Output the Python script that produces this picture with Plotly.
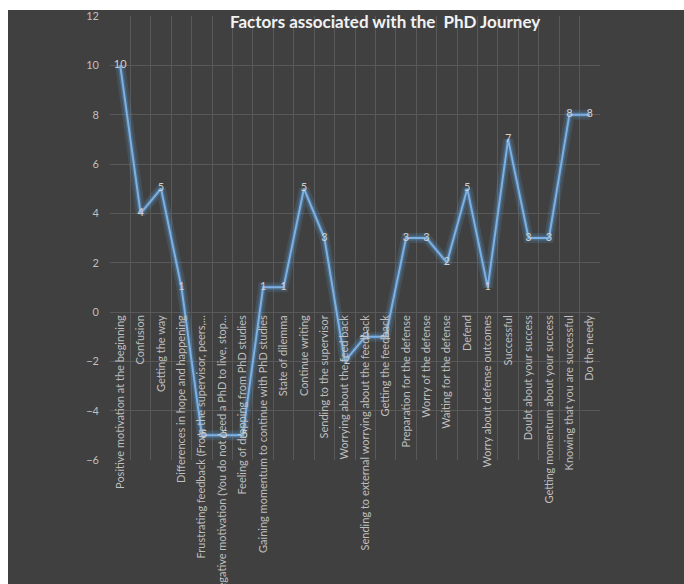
import plotly.graph_objects as go

categories = [
    "Positive motivation at the beginning",
    "Confusion",
    "Getting the way",
    "Differences in hope and happening",
    "Frustrating feedback (From the supervisor, peers,...",
    "Negative motivation (You do not need a PhD to live, stop...",
    "Feeling of dropping from PhD studies",
    "Gaining momentum to continue with PhD studies",
    "State of dilemma",
    "Continue writing",
    "Sending to the supervisor",
    "Worrying about the feed back",
    "Sending to external worrying about the feedback",
    "Getting the feedback",
    "Preparation for the defense",
    "Worry of the defense",
    "Waiting for the defense",
    "Defend",
    "Worry about defense outcomes",
    "Successful",
    "Doubt about your success",
    "Getting momentum about your success",
    "Knowing that you are successful",
    "Do the needy",
]
values = [10, 4, 5, 1, -5, -5, -5, 1, 1, 5, 3, -2, -1, -1, 3, 3, 2, 5, 1, 7, 3, 3, 8, 8]
y_ticks = [-6, -4, -2, 0, 2, 4, 6, 8, 10, 12]
title_text = "Factors associated with the  PhD Journey"

x_idx = list(range(len(categories)))

BG = "#404040"
GRID = "#595959"
TXT = "#bfbfbf"

# plot area in pixels
W, H = 684, 584
L, R, T, B = 110, 84, 16, 124
pw, ph = W - L - R, H - T - B

fig = go.Figure()
# glow layers
fig.add_trace(go.Scatter(x=x_idx, y=values, mode="lines",
                         line=dict(color="rgba(91,155,213,0.18)", width=10),
                         hoverinfo="skip", showlegend=False))
fig.add_trace(go.Scatter(x=x_idx, y=values, mode="lines",
                         line=dict(color="rgba(91,155,213,0.35)", width=5),
                         hoverinfo="skip", showlegend=False))
fig.add_trace(go.Scatter(x=x_idx, y=values, mode="lines+text",
                         line=dict(color="#7db0e3", width=2),
                         text=[str(v) for v in values],
                         textposition="middle center",
                         textfont=dict(family="Lato", size=11, color="#d0d0d0"),
                         showlegend=False))

fig.update_layout(
    width=W, height=H,
    margin=dict(l=L, r=R, t=T, b=B, pad=0),
    paper_bgcolor="white",
    plot_bgcolor=BG,
    showlegend=False,
    shapes=[dict(type="rect", xref="paper", yref="paper",
                 x0=(8 - L) / pw, x1=(W - L) / pw,
                 y0=-B / ph, y1=(H - B - 10) / ph,
                 fillcolor=BG, line=dict(width=0), layer="below")],
    annotations=[dict(text="<b>" + title_text + "</b>", xref="paper", yref="paper",
                      x=(385 - L) / pw, y=(H - B - 22) / ph, xanchor="center", yanchor="middle",
                      showarrow=False,
                      font=dict(family="Lato", size=17, color="#f2f2f2"))],
)

zero_pos = (0 - (-6)) / (12 - (-6))
fig.update_xaxes(
    range=[-0.5, len(categories) - 0.5],
    tickmode="array", tickvals=x_idx, ticktext=categories,
    tickangle=-90,
    tickfont=dict(family="Lato", size=11, color=TXT),
    showgrid=False, zeroline=False, showline=False, ticks="",
    anchor="free", position=zero_pos, automargin=False,
    minor=dict(tickmode="array", tickvals=[i - 0.5 for i in range(len(categories) + 1)],
               showgrid=True, gridcolor=GRID, gridwidth=1),
)
fig.update_yaxes(
    range=[-6, 12],
    tickmode="array", tickvals=y_ticks,
    tickfont=dict(family="Lato", size=11, color=TXT),
    showgrid=True, gridcolor=GRID, gridwidth=1,
    zeroline=False, showline=False, ticks="", ticklabelstandoff=10,
    automargin=False,
)

fig.write_html("out.html")
